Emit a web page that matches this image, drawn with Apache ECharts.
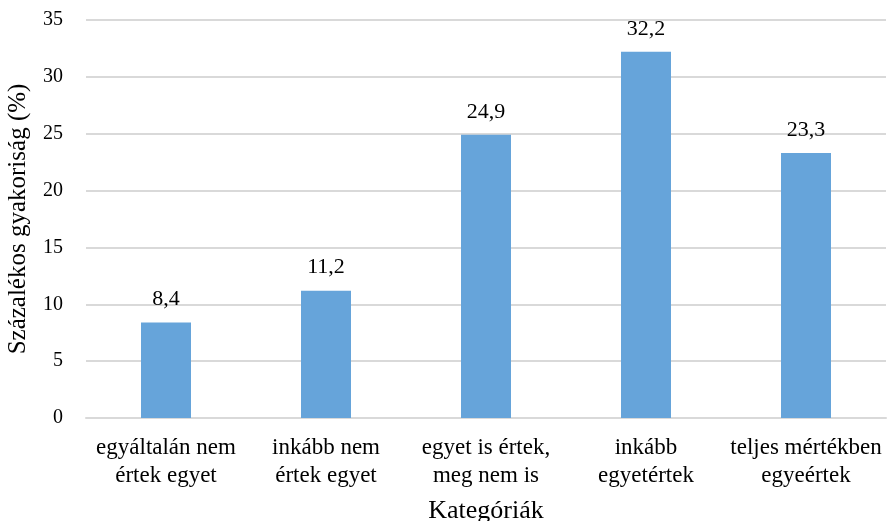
<!DOCTYPE html>
<html>
<head>
<meta charset="utf-8">
<script src="https://cdn.jsdelivr.net/npm/echarts@6/dist/echarts.min.js"></script>
<style>
  html, body { margin: 0; padding: 0; background: #fff; }
  #chart { width: 887px; height: 521px; }
</style>
</head>
<body>
<div id="chart"></div>
<script>
const categories = [
  'egyáltalán nem\nértek egyet',
  'inkább nem\nértek egyet',
  'egyet is értek,\nmeg nem is',
  'inkább\negyetértek',
  'teljes mértékben\negyeértek'
]
const values = [8.4, 11.2, 24.9, 32.2, 23.3]
const yTicks = { min: 0, max: 35, step: 5 }

const font = '"Liberation Serif", "Times New Roman", serif'

const chart = echarts.init(document.getElementById('chart'))
chart.setOption({
  animation: false,
  textStyle: { fontFamily: font },
  grid: { left: 86, right: 1, top: 20, bottom: 103, outerBoundsMode: 'none', containLabel: false },
  xAxis: {
    type: 'category',
    data: categories,
    name: 'Kategóriák',
    nameLocation: 'middle',
    nameGap: 80,
    nameTextStyle: { color: '#000', fontSize: 26, fontFamily: font },
    axisLine: { lineStyle: { color: '#d9d9d9', width: 2 } },
    axisTick: { show: false },
    axisLabel: {
      color: '#000',
      fontSize: 23,
      fontFamily: font,
      lineHeight: 28,
      margin: 16,
      interval: 0
    }
  },
  yAxis: {
    type: 'value',
    min: yTicks.min,
    max: yTicks.max,
    interval: yTicks.step,
    name: 'Százalékos gyakoriság (%)',
    nameLocation: 'middle',
    nameGap: 55,
    nameTextStyle: { color: '#000', fontSize: 25, fontFamily: font },
    axisLine: { show: false },
    axisTick: { show: false },
    axisLabel: { color: '#000', fontSize: 20, fontFamily: font, margin: 23 },
    splitLine: { lineStyle: { color: '#d9d9d9', width: 2 } }
  },
  series: [{
    type: 'bar',
    data: values,
    barWidth: 50,
    itemStyle: { color: '#66a4da' },
    label: {
      show: true,
      position: 'top',
      distance: 12,
      color: '#000',
      fontSize: 22,
      fontFamily: font,
      formatter: p => String(p.value).replace('.', ',')
    }
  }]
})
</script>
</body>
</html>
